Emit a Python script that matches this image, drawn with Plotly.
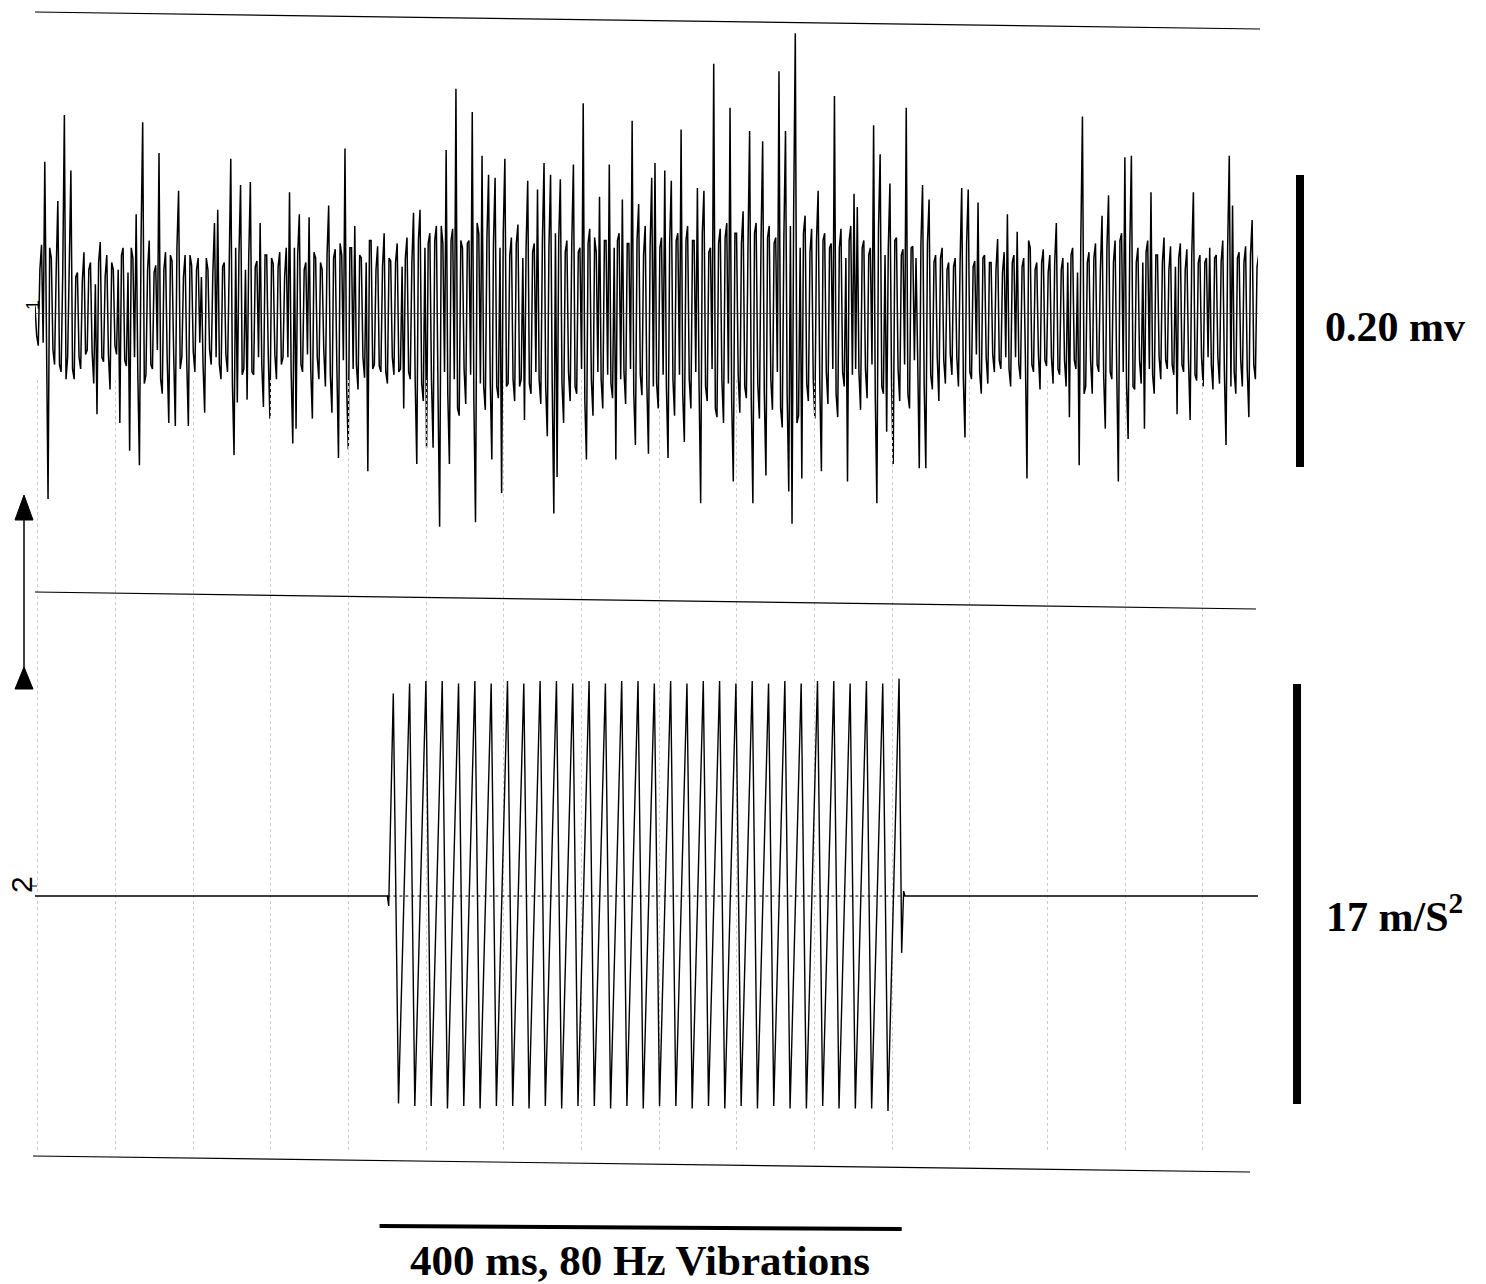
import plotly.graph_objects as go

# ---------------- data ----------------
# EMG trace (channel 1): large excursions every 2.5 ms (microvolts) ...
emg_dt_ms = 2.5
emg_uv = [
    5, -22, 47, 104, -127, 38, -35, 77, -40, 136, -30, 98, -45, 28, -38, 42, -25, 35, -48, -69,
    49, -33, 40, -52, 30, -28, -75, 45, -36, -94, 38, 68, -104, 131, -42, 50, -38, 33, 110, -55,
    42, -75, 36, -77, 84, -30, 40, -77, 33, -40, 38, 25, -68, 30, -35, 62, 71, -45, 35, -40,
    106, -97, -61, 88, -38, -59, 90, -42, 36, 62, -64, 40, -72, 34, -45, 42, -30, 45, 83, -89,
    -79, 68, -40, 35, 66, -72, 38, -45, 30, -50, 74, -68, 44, -99, 40, 113, -93, 45, 60, -52,
    38, -44, -108, 50, -35, 46, -40, 55, -48, 36, -42, 48, -38, -65, 52, -45, 69, -103, 71, -60,
    -92, 55, -92, 60, -146, 48, 112, -103, 58, 154, -70, 45, -62, 50, 138, -143, 55, 108, -66, 95,
    -100, 93, -58, -123, 106, -48, 52, -60, 61, -45, -73, 91, -55, 48, 85, -62, 103, -84, 95, -137,
    -112, 92, -75, 50, -60, 102, -55, 45, 144, -100, 58, -70, 42, 80, -65, 50, 102, -58, -100, 55,
    78, -62, 48, 132, -90, 75, -56, 60, -96, 93, 103, -65, 52, 98, -99, 91, -70, 55, 126, -88,
    60, -65, 50, 86, -130, 84, -60, 45, 171, -71, 58, -75, 62, 141, -115, 55, -68, 70, -58, 125,
    -130, 62, -72, 118, -111, 60, -66, 52, 166, -78, 125, -122, -144, 192, -70, -113, 67, -60, 58, -72,
    84, -108, 55, -62, 48, 149, -71, 58, -50, -115, 60, 82, 73, -66, 50, -58, 45, 129, -130, 109,
    -55, -81, 89, -103, 52, -60, 44, 141, -65, 46, 38, -106, 88, -106, 78, -52, 40, -60, 45, -48,
    35, -42, 38, -50, 86, -85, 85, -45, 36, 76, -55, 40, -48, 35, -40, 51, -38, 42, 68, -50,
    40, 56, -45, 38, -113, 45, -40, 35, -52, 44, -36, 40, -48, 62, -42, 38, -50, -71, 45, -38,
    -104, 135, -50, 42, -55, 48, -40, 67, -79, 81, -45, 50, -115, 55, 107, -86, 108, -52, 45, -48,
    -79, 50, 83, -55, 40, -45, 52, -38, 46, -42, -69, 48, -40, 44, -73, 83, -46, 40, -50, 38,
    45, -52, 40, -48, 50, -90, 108, 74, -55, 42, -50, 46, -71, 64, -45, 40, 67, -52, -102, 58,
]
# ... and the dense low-amplitude band in between (offset by half a step)
emg_fill_uv = [
    -15, 30, -20, -40, 45, -25, 30, -35, 28, -45, 32, -38, 25, -30, 22, -28, 30, -26, 20, 35,
    -30, 25, -28, 35, -22, 30, 40, -32, 28, 45, -30, -40, 50, -48, 30, -35, 28, -25, -45, 30,
    -30, 40, -28, 45, -38, 25, -32, 40, -26, 30, -20, -35, 38, -25, 28, -30, -35, 32, -28, 30,
    -48, 45, 40, -42, 30, 38, -40, 32, -30, -35, 40, -30, 38, -28, 32, -35, 25, -30, -40, 45,
    40, -35, 30, -28, -38, 42, -30, 35, -25, 40, -42, 38, -35, 48, -32, -50, 45, -38, -35, 40,
    -30, 35, 50, -38, 30, -36, 32, -40, 38, -30, 35, -40, 32, 38, -40, 35, -45, 50, -48, 45,
    48, -45, 50, -52, 60, -40, -55, 50, -45, -65, 50, -38, 48, -42, -60, 62, -48, -50, 52, -45,
    48, -50, 45, 55, -50, 40, -45, 48, -50, 38, 45, -48, 42, -40, -45, 50, -50, 45, -48, 55,
    50, -48, 42, -40, 48, -50, 42, -38, -60, 48, -45, 52, -40, -45, 50, -42, -48, 45, 50, -45,
    -40, 48, -38, -55, 50, -42, 40, -48, 45, -50, -48, 45, -42, -50, 48, -45, 50, -42, -55, 50,
    -45, 50, -40, -48, 55, -50, 42, -38, -65, 48, -45, 52, -48, -60, 55, -42, 48, -50, 45, -58,
    55, -48, 50, -55, 52, -45, 48, -40, -65, 52, -55, 60, 70, -75, 45, 55, -48, 42, -45, 50,
    -48, 50, -40, 45, -38, -55, 45, -40, 38, 50, -42, -38, -40, 45, -38, 40, -35, -55, 58, -50,
    40, 45, -48, 50, -38, 40, -35, -55, 45, -32, -30, 48, -50, 48, -42, 35, -30, 38, -32, 30,
    -28, 32, -30, 35, -45, 48, -40, 32, -28, -40, 38, -30, 35, -28, 30, -32, 28, -30, -38, 35,
    -30, -35, 32, -28, 50, -35, 30, -28, 35, -32, 28, -30, 35, -38, 30, -32, 35, 40, -32, 28,
    50, -55, 35, -32, 38, -35, 30, -42, 45, -40, 35, -38, 50, -40, -48, 45, -50, 35, -32, 35,
    42, -38, -42, 40, -30, 35, -32, 30, -35, 32, 38, -35, 30, -32, 40, -42, 35, -30, 35, -30,
    -35, 38, -30, 35, -40, 45, -50, -40, 38, -32, 35, -38, 40, -35, 32, -30, -40, 45, 48, -35,
]

# Vibration (channel 2), 80 Hz, acceleration in m/s^2
vib_period_ms = 12.5
vib_first_peak_ms = 274.5
vib_peak_to_trough_ms = 4.0
vib_peaks = [8.2, 8.6, 8.7, 8.7, 8.6, 8.7, 8.6, 8.7, 8.6, 8.7, 8.7, 8.6, 8.7, 8.6, 8.7, 8.7,
             8.6, 8.7, 8.6, 8.7, 8.7, 8.6, 8.7, 8.6, 8.7, 8.6, 8.7, 8.7, 8.6, 8.7, 8.6, 8.8]
vib_troughs = [-8.4, -8.5, -8.5, -8.6, -8.5, -8.6, -8.5, -8.5, -8.6, -8.5, -8.6, -8.5, -8.5, -8.6, -8.5, -8.6,
               -8.5, -8.5, -8.6, -8.5, -8.6, -8.5, -8.6, -8.5, -8.6, -8.6, -8.5, -8.6, -8.6, -8.6, -8.7]
vib_pre = [(0.0, 0.0), (270.0, 0.0), (271.0, -0.4)]
vib_post = [(664.0, -2.3), (665.5, 0.2), (666.5, 0.0), (937.0, 0.0)]

record_ms = 937.0
emg_scale_mv = 0.20
vib_scale = 17.0
time_bar_ms = 400.0
time_bar_start_ms = 264.0

labels = {
    "emg_scale": "0.20 mv",
    "vib_scale": "17 m/S<sup>2</sup>",
    "time": "400 ms, 80 Hz Vibrations",
    "ch1": "1",
    "ch2": "2",
}

# ---------------- build series ----------------
emg_t, emg_mv = [], []
for i, v in enumerate(emg_uv):
    emg_t.append(i * emg_dt_ms)
    emg_mv.append(v / 1000.0)
    if i < len(emg_fill_uv) and i < len(emg_uv) - 1:
        emg_t.append(i * emg_dt_ms + emg_dt_ms / 2)
        emg_mv.append(emg_fill_uv[i] / 1000.0)

vib_t = [p[0] for p in vib_pre]
vib_v = [p[1] for p in vib_pre]
for i, pk in enumerate(vib_peaks):
    tp = vib_first_peak_ms + i * vib_period_ms
    vib_t.append(tp)
    vib_v.append(pk)
    if i < len(vib_troughs):
        vib_t.append(tp + vib_peak_to_trough_ms)
        vib_v.append(vib_troughs[i])
vib_t += [p[0] for p in vib_post]
vib_v += [p[1] for p in vib_post]

W, H = 1486, 1284


def px(x):
    return x / W


def py(y):
    return 1 - y / H


x_dom = [px(35), px(1258)]
emg_range = [-0.212, 0.212]

fig = go.Figure()
fig.add_trace(go.Scatter(x=emg_t, y=emg_mv, mode="lines", line=dict(color="black", width=1.5),
                         xaxis="x", yaxis="y", hoverinfo="skip", showlegend=False))
fig.add_trace(go.Scatter(x=vib_t, y=vib_v, mode="lines", line=dict(color="black", width=1.4),
                         xaxis="x2", yaxis="y2", hoverinfo="skip", showlegend=False))
# empty helper trace so the grid-only panel below the EMG trace is drawn
fig.add_trace(go.Scatter(x=[None], y=[None], mode="lines", xaxis="x3", yaxis="y3",
                         hoverinfo="skip", showlegend=False))

axis_common = dict(showline=False, zeroline=False, showticklabels=False, ticks="")
grid = dict(showgrid=True, gridcolor="#cdcdcd", griddash="dot", gridwidth=1,
            tick0=2.1, dtick=59.5)
fig.update_layout(
    width=W, height=H,
    margin=dict(l=0, r=0, t=0, b=0),
    paper_bgcolor="white", plot_bgcolor="rgba(0,0,0,0)",
    xaxis=dict(domain=x_dom, range=[0, record_ms], anchor="y", showgrid=False, **axis_common),
    xaxis2=dict(domain=x_dom, range=[0, record_ms], anchor="y2", matches="x", **axis_common, **grid),
    xaxis3=dict(domain=x_dom, range=[0, record_ms], anchor="y3", matches="x", **axis_common, **grid),
    yaxis=dict(domain=[py(623), py(4)], range=emg_range, anchor="x", showgrid=False, **axis_common),
    yaxis2=dict(domain=[py(1150), py(649)], range=[-10.28, 10], anchor="x2", showgrid=False, **axis_common),
    yaxis3=dict(domain=[py(647), py(380)], range=[0, 1], anchor="x3", showgrid=False, **axis_common),
)

shapes = []
# frame lines (slightly tilted, as in the scanned figure)
for (x0, y0, x1, y1) in [(35, 12, 1260, 29), (35, 592, 1256, 609), (33, 1156, 1250, 1172)]:
    shapes.append(dict(type="line", xref="paper", yref="paper", x0=px(x0), y0=py(y0), x1=px(x1), y1=py(y1),
                       line=dict(color="black", width=1.2)))
# baselines
shapes.append(dict(type="line", xref="x", yref="y", x0=0, x1=record_ms, y0=0, y1=0,
                   line=dict(color="#444444", width=0.7)))
shapes.append(dict(type="line", xref="x2", yref="y2", x0=270, x1=666, y0=0, y1=0,
                   line=dict(color="black", width=1, dash="dot")))
# amplitude scale bars
emg_bar_top = 0.0949
shapes.append(dict(type="line", xref="paper", yref="y", x0=px(1300), x1=px(1300),
                   y0=emg_bar_top, y1=emg_bar_top - emg_scale_mv, line=dict(color="black", width=8)))
vib_bar_top = 8.58
shapes.append(dict(type="line", xref="paper", yref="y2", x0=px(1297), x1=px(1297),
                   y0=vib_bar_top, y1=vib_bar_top - vib_scale, line=dict(color="black", width=8)))
# time bar
shapes.append(dict(type="line", xref="x", yref="paper", x0=time_bar_start_ms, x1=time_bar_start_ms + time_bar_ms,
                   y0=py(1226), y1=py(1229), line=dict(color="black", width=4)))
# double arrow on the left
shapes.append(dict(type="line", xref="paper", yref="paper", x0=px(24), x1=px(24), y0=py(515), y1=py(670),
                   line=dict(color="black", width=1.5)))
for tip, base in [(495, 520), (667, 689)]:
    path = "M {} {} L {} {} L {} {} Z".format(px(24), py(tip), px(15), py(base), px(33), py(base))
    shapes.append(dict(type="path", xref="paper", yref="paper", path=path,
                       fillcolor="black", line=dict(color="black", width=1)))
# small lead line beside label 2
shapes.append(dict(type="line", xref="paper", yref="paper", x0=px(32), x1=px(37), y0=py(886), y1=py(886),
                   line=dict(color="black", width=1)))

fig.update_layout(shapes=shapes)

serif = "Liberation Serif"
ann = [
    dict(text="<b>" + labels["emg_scale"] + "</b>", x=px(1323), y=py(327), xanchor="left", yanchor="middle",
         font=dict(family=serif, size=42, color="black")),
    dict(text="<b>" + labels["vib_scale"] + "</b>", x=px(1324), y=py(913), xanchor="left", yanchor="middle",
         font=dict(family=serif, size=42, color="black")),
    dict(text="<b>" + labels["time"] + "</b>", x=px(640), y=py(1260), xanchor="center", yanchor="middle",
         font=dict(family=serif, size=43, color="black")),
    dict(text=labels["ch1"], x=px(33), y=py(305), xanchor="center", yanchor="middle", textangle=-90,
         font=dict(family="Liberation Sans", size=18, color="black")),
    dict(text=labels["ch2"], x=px(21), y=py(885), xanchor="center", yanchor="middle", textangle=-90,
         font=dict(family="Liberation Sans", size=30, color="black")),
]
for a in ann:
    a.update(xref="paper", yref="paper", showarrow=False)
fig.update_layout(annotations=ann)

fig.write_html("out.html", config={"displayModeBar": False},
               post_script="document.body.style.margin='0';document.body.style.overflow='hidden';")
